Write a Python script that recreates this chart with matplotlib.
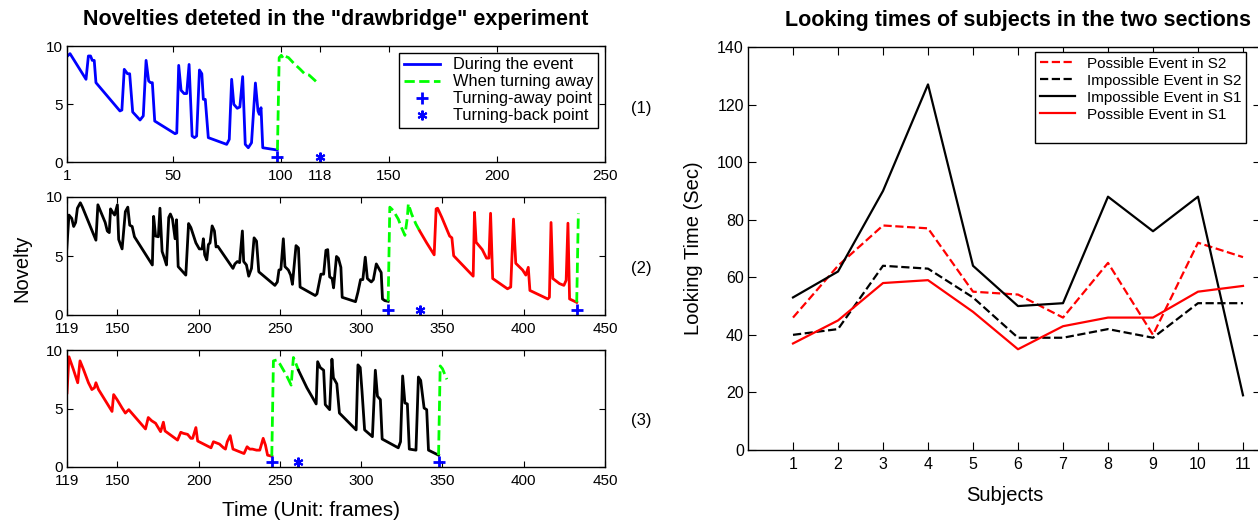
import matplotlib
matplotlib.use("Agg")
import matplotlib.pyplot as plt
from matplotlib.lines import Line2D

plt.rcParams['font.family'] = ['Liberation Sans', 'DejaVu Sans']

# ---------------- Panel (1) ----------------
p1_event_x = [1, 2.4, 9.8, 10.9, 11.9, 12.7, 13.6, 14.4, 25.5, 26.4, 27.5, 29.0, 30.0, 31.4, 34.8, 36.3,
              37.6, 38.8, 39.7, 40.5, 41.6, 51.0, 51.8, 52.7, 53.8, 55.2, 56.4, 57.5, 58.9, 60.0, 61.0,
              62.3, 63.4, 64.1, 65.0, 66.4, 74.9, 76.1, 77.2, 78.2, 79.8, 81.0, 82.3, 83.5, 84.9, 86.4,
              88.2, 89.4, 90.0, 90.8, 91.6, 98.3]
p1_event_y = [9.1, 9.34, 7.13, 9.14, 9.14, 8.76, 8.76, 6.84, 4.40, 4.48, 7.99, 7.61, 7.61, 4.31, 3.62, 3.97,
              8.76, 6.98, 6.84, 6.84, 3.53, 2.44, 2.5, 8.33, 6.18, 5.9, 5.9, 8.41, 2.24, 2.1, 2.24,
              7.93, 7.61, 5.40, 5.4, 2.10, 1.52, 1.95, 7.13, 4.97, 4.63, 4.74, 7.36, 1.52, 1.23, 1.66,
              6.81, 4.4, 4.11, 4.68, 1.23, 1.03]
p1_away_x = [98.4, 99.2, 100.2, 101.2, 102.2, 103.5, 106, 108.9, 111, 113, 117.7]
p1_away_y = [1.03, 9.0, 9.2, 8.9, 9.1, 9.0, 8.5, 8.0, 7.6, 7.5, 6.7]
p1_turn_away_x = [98.4]
p1_turn_back_x = [118]
p1_xticks = [1, 50, 100, 118, 150, 200, 250]

# ---------------- Panel (2) ----------------
p2_black_x = [118.8, 120.2, 121.9, 123.1, 124.3, 125.4, 127.2, 128.5, 136.8, 138.0, 142.5, 143.8, 145.0,
              145.8, 147.1, 148.3, 150.0, 150.8, 152.9, 154.9, 156.4, 157.6, 159.1, 160.5, 171.5, 172.3,
              173.5, 175.2, 176.2, 177.5, 178.9, 180.2, 181.6, 182.6, 183.9, 185.5, 186.4, 187.4, 192.1,
              193.8, 195.2, 198.3, 200.4, 202.1, 202.9, 203.7, 205.0, 206.0, 207.0, 208.3, 209.7, 210.7,
              211.8, 221.1, 222.3, 223.8, 225.2, 226.9, 227.7, 229.4, 230.8, 232.5, 234.1, 235.6, 237.0,
              246.9, 248.4, 249.4, 250.6, 252.1, 253.1, 255.2, 256.6, 257.7, 259.9, 261.4, 262.4, 271.7,
              272.8, 275.2, 276.9, 278.3, 279.4, 280.6, 282.1, 283.0, 284.8, 286.0, 287.5, 288.3, 296.5,
              298.0, 299.6, 301.0, 302.5, 303.8, 306.2, 307.5, 309.3, 311.4, 312.3, 313.1, 314.5, 316.6]
p2_black_y = [5.5, 8.47, 8.19, 7.5, 7.84, 9.05, 9.51, 9.14, 6.34, 9.34, 7.84, 7.12, 6.98,
              8.99, 8.7, 8.47, 9.34, 6.4, 5.6, 8.76, 9.14, 7.61, 7.5, 6.63, 4.24, 8.36,
              6.69, 6.63, 9.05, 5.39, 4.82, 4.24, 8.27, 8.56, 8.13, 6.46, 8.07, 4.1, 3.38,
              7.75, 7.41, 6.11, 5.6, 5.6, 6.46, 5.1, 4.67, 5.97, 6.11, 7.55, 7.12, 5.77,
              5.82, 3.95, 4.33, 4.53, 4.44, 7.12, 4.53, 4.24, 3.29, 3.95, 6.54, 6.26, 3.66,
              2.51, 2.8, 3.81, 3.87, 6.46, 4.1, 3.81, 3.38, 2.6, 5.88, 5.68, 2.37, 1.65,
              1.79, 3.46, 3.46, 5.48, 5.54, 3.23, 3.09, 2.3, 4.96, 4.8, 4.04, 1.5, 1.13,
              1.94, 3.0, 3.0, 4.9, 3.09, 2.8, 3.0, 4.33, 3.81, 3.6, 1.36, 1.22, 1.16]
p2_away1_x = [316.6, 317.6, 319.7, 322.8, 324.8, 326.9, 328.4, 329.0, 331.0, 333.7, 336.0]
p2_away1_y = [1.16, 9.14, 8.85, 8.13, 7.41, 6.75, 8.27, 9.42, 8.56, 7.7, 7.12]
p2_red_x = [336.0, 340.3, 344.9, 346.1, 347.0, 349.6, 354.4, 355.8, 356.9, 368.9, 369.7, 370.7, 374.5,
            377.1, 378.6, 379.6, 380.9, 390.0, 392.0, 393.7, 395.1, 399.3, 401.3, 402.8, 403.8, 414.8,
            415.8, 416.8, 417.9, 422.0, 424.7, 426.1, 427.2, 428.2, 432.6]
p2_red_y = [7.12, 6.11, 5.1, 8.99, 9.05, 8.27, 6.69, 6.54, 5.02, 3.29, 8.7, 6.17, 5.54,
            4.82, 4.82, 8.62, 3.09, 2.22, 2.37, 8.13, 4.38, 3.81, 3.38, 4.04, 2.08, 1.36,
            1.5, 7.84, 3.09, 2.66, 2.51, 2.94, 7.78, 1.36, 1.07]
p2_away2_x = [432.6, 433.6]
p2_away2_y = [1.07, 8.6]
p2_turn_away_x = [316.6, 432.6]
p2_turn_back_x = [336.0]

# ---------------- Panel (3) ----------------
p3_red_x = [119.0, 120.2, 122.9, 125.6, 127.0, 129.1, 132.2, 134.3, 135.9, 136.8, 138.4, 146.7, 147.7,
            149.8, 152.9, 154.9, 157.0, 167.3, 169.0, 171.1, 173.5, 176.6, 178.3, 179.3, 187.0, 189.0,
            190.5, 193.2, 195.2, 196.3, 198.3, 199.4, 207.6, 209.1, 210.8, 212.8, 215.3, 216.5, 217.6,
            219.4, 221.1, 227.9, 229.8, 231.4, 233.1, 235.6, 237.6, 239.7, 241.1, 242.4, 245.0]
p3_red_y = [6.34, 9.42, 8.35, 7.2, 9.07, 8.35, 7.2, 6.62, 6.77, 7.2, 6.62, 4.75, 6.19,
            5.76, 5.04, 4.61, 4.9, 3.25, 4.23, 3.95, 3.74, 3.02, 3.83, 3.08, 2.3, 2.97,
            2.88, 2.79, 2.45, 2.45, 3.37, 2.22, 1.64, 2.16, 2.07, 1.96, 1.64, 1.53, 2.16,
            2.68, 1.53, 1.15, 1.73, 1.53, 1.53, 1.44, 1.44, 2.45, 1.87, 1.01, 0.92]
p3_away1_x = [245.0, 246.0, 248.0, 250.0, 252.5, 254.2, 256.9, 258.3, 260.0, 261.4]
p3_away1_y = [0.92, 9.07, 9.15, 8.8, 8.2, 7.78, 7.0, 9.36, 8.78, 8.27]
p3_black_x = [261.4, 266.6, 272.3, 273.2, 274.8, 276.9, 277.9, 280.6, 282.0, 282.9, 285.0, 286.6,
              296.9, 298.0, 299.4, 300.5, 302.1, 306.9, 308.7, 310.0, 311.8, 312.9, 322.8, 324.2,
              325.5, 326.9, 328.4, 329.6, 333.7, 335.2, 336.6, 338.7, 340.3, 341.4, 347.6]
p3_black_y = [8.27, 6.77, 5.39, 9.0, 8.5, 8.27, 5.33, 4.9, 9.22, 7.63, 7.11, 4.61,
              3.17, 8.73, 8.5, 6.48, 3.17, 2.59, 8.27, 6.05, 5.76, 2.39, 1.64, 2.16,
              7.78, 5.47, 5.39, 1.53, 1.44, 7.69, 7.4, 5.04, 4.9, 1.44, 1.01]
p3_away2_x = [347.6, 348.6, 350.0, 352.7]
p3_away2_y = [1.01, 8.64, 8.4, 7.49]
p3_turn_away_x = [245.0, 347.6]
p3_turn_back_x = [261.4]
p23_xticks = [119, 150, 200, 250, 300, 350, 400, 450]
marker_y = 0.45

# ---------------- Right chart ----------------
subjects = [1, 2, 3, 4, 5, 6, 7, 8, 9, 10, 11]
possible_s2 = [46, 64, 78, 77, 55, 54, 46, 65, 40, 72, 67]
impossible_s2 = [40, 42, 64, 63, 53, 39, 39, 42, 39, 51, 51]
impossible_s1 = [53, 62, 90, 127, 64, 50, 51, 88, 76, 88, 19]
possible_s1 = [37, 45, 58, 59, 48, 35, 43, 46, 46, 55, 57]

BLUE, GREEN, RED, BLACK = '#0000ff', '#00ff00', '#ff0000', '#000000'
W, H = 1258, 522
fig = plt.figure(figsize=(W / 100, H / 100), dpi=100)


def ax_px(left, top, right, bottom):
    return fig.add_axes([left / W, 1 - bottom / H, (right - left) / W, (bottom - top) / H])


def style(ax, size=11):
    ax.tick_params(direction='in', top=True, right=True, length=4, width=0.8,
                   labelsize=size, colors='black')
    ax.tick_params(axis='x', pad=5)
    ax.tick_params(axis='y', pad=3)
    for s in ax.spines.values():
        s.set_linewidth(1.0)


asterisk = (6, 2, 0)
lw = 2.0

# Panel 1
ax1 = ax_px(67, 46, 605, 162)
ax1.plot(p1_event_x, p1_event_y, color=BLUE, lw=lw, label='During the event')
ax1.plot(p1_away_x, p1_away_y, color=GREEN, lw=lw, ls='--', label='When turning away')
ax1.plot(p1_turn_away_x, [marker_y] * len(p1_turn_away_x), ls='none', marker='+', color=BLUE,
         ms=8, mew=2, label='Turning-away point')
ax1.plot(p1_turn_back_x, [marker_y] * len(p1_turn_back_x), ls='none', marker=asterisk, color=BLUE,
         ms=7, mew=1.5, label='Turning-back point')
ax1.set_xlim(1, 250)
ax1.set_ylim(0, 10)
ax1.set_xticks(p1_xticks)
ax1.set_yticks([0, 5, 10])
style(ax1)
ax1.set_title('Novelties deteted in the "drawbridge" experiment', fontsize=15.5,
              fontweight='bold', pad=15)
leg1 = ax1.legend(loc='upper right', fontsize=11.8, frameon=True, fancybox=False,
                  edgecolor='black', framealpha=1, borderpad=0.3, handlelength=2.2,
                  labelspacing=0.12, handletextpad=0.8, borderaxespad=0.4)
leg1.get_frame().set_linewidth(1.0)

# Panel 2
ax2 = ax_px(67, 197, 605, 315)
ax2.plot(p2_black_x, p2_black_y, color=BLACK, lw=lw)
ax2.plot(p2_away1_x, p2_away1_y, color=GREEN, lw=lw, ls='--')
ax2.plot(p2_red_x, p2_red_y, color=RED, lw=lw)
ax2.plot(p2_away2_x, p2_away2_y, color=GREEN, lw=lw, ls='--')
ax2.plot(p2_turn_away_x, [marker_y] * len(p2_turn_away_x), ls='none', marker='+', color=BLUE, ms=8, mew=2)
ax2.plot(p2_turn_back_x, [marker_y] * len(p2_turn_back_x), ls='none', marker=asterisk, color=BLUE, ms=7, mew=1.5)
ax2.set_xlim(119, 450)
ax2.set_ylim(0, 10)
ax2.set_xticks(p23_xticks)
ax2.set_yticks([0, 5, 10])
style(ax2)

# Panel 3
ax3 = ax_px(67, 350, 605, 467)
ax3.plot(p3_red_x, p3_red_y, color=RED, lw=lw)
ax3.plot(p3_away1_x, p3_away1_y, color=GREEN, lw=lw, ls='--')
ax3.plot(p3_black_x, p3_black_y, color=BLACK, lw=lw)
ax3.plot(p3_away2_x, p3_away2_y, color=GREEN, lw=lw, ls='--')
ax3.plot(p3_turn_away_x, [marker_y] * len(p3_turn_away_x), ls='none', marker='+', color=BLUE, ms=8, mew=2)
ax3.plot(p3_turn_back_x, [marker_y] * len(p3_turn_back_x), ls='none', marker=asterisk, color=BLUE, ms=7, mew=1.5)
ax3.set_xlim(119, 450)
ax3.set_ylim(0, 10)
ax3.set_xticks(p23_xticks)
ax3.set_yticks([0, 5, 10])
style(ax3)

fig.text(22 / W, 1 - 268 / H, 'Novelty', fontsize=14.5, rotation=90, ha='center', va='center')
fig.text(311 / W, 1 - 510 / H, 'Time (Unit: frames)', fontsize=15, ha='center', va='center')

for lab, ypx in [('(1)', 108), ('(2)', 268), ('(3)', 420)]:
    fig.text(641 / W, 1 - ypx / H, lab, fontsize=12, ha='center', va='center')

# Right chart
R_LEFT, R_RIGHT, UNIT = 748, 1261, 45.0
axr = ax_px(R_LEFT, 47, R_RIGHT, 450)
axr.plot(subjects, possible_s2, color=RED, ls='--', lw=1.6, label='Possible Event in S2')
axr.plot(subjects, impossible_s2, color=BLACK, ls='--', lw=1.6, label='Impossible Event in S2')
axr.plot(subjects, impossible_s1, color=BLACK, ls='-', lw=1.6, label='Impossible Event in S1')
axr.plot(subjects, possible_s1, color=RED, ls='-', lw=1.6, label='Possible Event in S1')
axr.set_xlim(0, (R_RIGHT - R_LEFT) / UNIT)
axr.set_ylim(0, 140)
axr.set_xticks(subjects)
axr.set_yticks(range(0, 141, 20))
style(axr, size=11.5)
axr.tick_params(length=6)
axr.set_title('Looking times of subjects in the two sections', fontsize=15.5,
              fontweight='bold', pad=15, x=(1018 - R_LEFT) / (R_RIGHT - R_LEFT))
axr.set_xlabel('Subjects', fontsize=14.5, labelpad=10)
axr.set_ylabel('Looking Time (Sec)', fontsize=14.5, labelpad=10)
handles, labels = axr.get_legend_handles_labels()
handles.append(Line2D([], [], color='none'))
labels.append(' ')
legr = axr.legend(handles, labels, loc='upper left',
                  bbox_to_anchor=((1035 - R_LEFT) / (R_RIGHT - R_LEFT), 1 - 5 / 403),
                  fontsize=11, frameon=True, fancybox=False, edgecolor='black', framealpha=1,
                  borderpad=0.3, handlelength=2.3, labelspacing=0.2, handletextpad=0.8,
                  borderaxespad=0)
legr.get_frame().set_linewidth(1.0)

fig.savefig('out.png', dpi=100)
